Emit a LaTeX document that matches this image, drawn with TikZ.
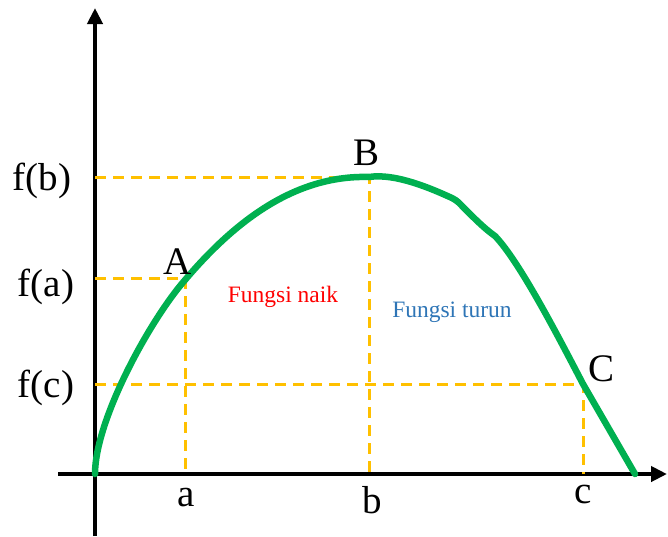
\documentclass[tikz,border=0pt]{standalone}
\usepackage{fontspec}
\setmainfont{Liberation Serif}
\usetikzlibrary{arrows.meta}
\definecolor{dashorange}{HTML}{FFC000}
\definecolor{curvegreen}{HTML}{00B050}
\definecolor{textblue}{HTML}{2E75B6}
\begin{document}
\begin{tikzpicture}[x=1pt,y=-1pt,
		axisline/.style={line width=4.5pt,-{Triangle[length=16pt,width=15pt]}},
		guide/.style={dashorange,line width=3pt,dash pattern=on 11pt off 7pt},
		ptlabel/.style={font=\fontsize{39}{39}\selectfont},
		zone/.style={font=\fontsize{23.5}{23.5}\selectfont}]
		\useasboundingbox (0,0) rectangle (668,536);
		
		% Axes
		\coordinate (O) at (95,474);
		\coordinate (Ytop) at (95,8);
		\coordinate (Ybot) at (95,536);
		\coordinate (Xleft) at (58,474);
		\coordinate (Xright) at (667,474);
		\draw[axisline] (Ybot) -- (Ytop);
		\draw[axisline] (Xleft) -- (Xright);
		
		% Points on the curve and their projections
		\coordinate (A) at (185,280);
		\coordinate (B) at (369,177);
		\coordinate (C) at (583,384);
		\coordinate (E) at (635,474);
		\coordinate (Ya) at (95,278);
		\coordinate (Yb) at (95,177);
		\coordinate (Yc) at (95,384);
		\coordinate (Xa) at (185,474);
		\coordinate (Xb) at (369,474);
		\coordinate (Xc) at (583,474);
		
		% Dashed guide lines
		\draw[guide] (Yb) -- (B) -- (Xb);
		\draw[guide] (Ya) -- (185,278) -- (Xa);
		\draw[guide] (Yc) -- (C) -- (Xc);
		
		% The curve
		\draw[curvegreen,line width=6.5pt,line cap=round,line join=round]
			(O) .. controls (95,420) and (150,320) .. (A)
			.. controls (240,215) and (300,175) .. (B)
			.. controls (395,173) and (430,188) .. (452,198)
			.. controls (458,201) and (460,204) .. (464,208)
			.. controls (475,219) and (485,229) .. (495,236)
			.. controls (520,262) and (560,340) .. (C)
			-- (E);
		
		% Labels
		\node[ptlabel] (lA) at (178,262) {A};
		\node[ptlabel] (lB) at (366,153) {B};
		\node[ptlabel] (lC) at (601,369) {C};
		\node[ptlabel] (lfb) at (42,181) {f(b)};
		\node[ptlabel] (lfa) at (46,287) {f(a)};
		\node[ptlabel] (lfc) at (46,388) {f(c)};
		\node[ptlabel] (la) at (186,498) {a};
		\node[ptlabel] (lb) at (372,500) {b};
		\node[ptlabel] (lc) at (583,494) {c};
		\node[zone,red] (up) at (283,297) {Fungsi naik};
		\node[zone,textblue] (down) at (452,312) {Fungsi turun};
		
	\end{tikzpicture}
\end{document}
